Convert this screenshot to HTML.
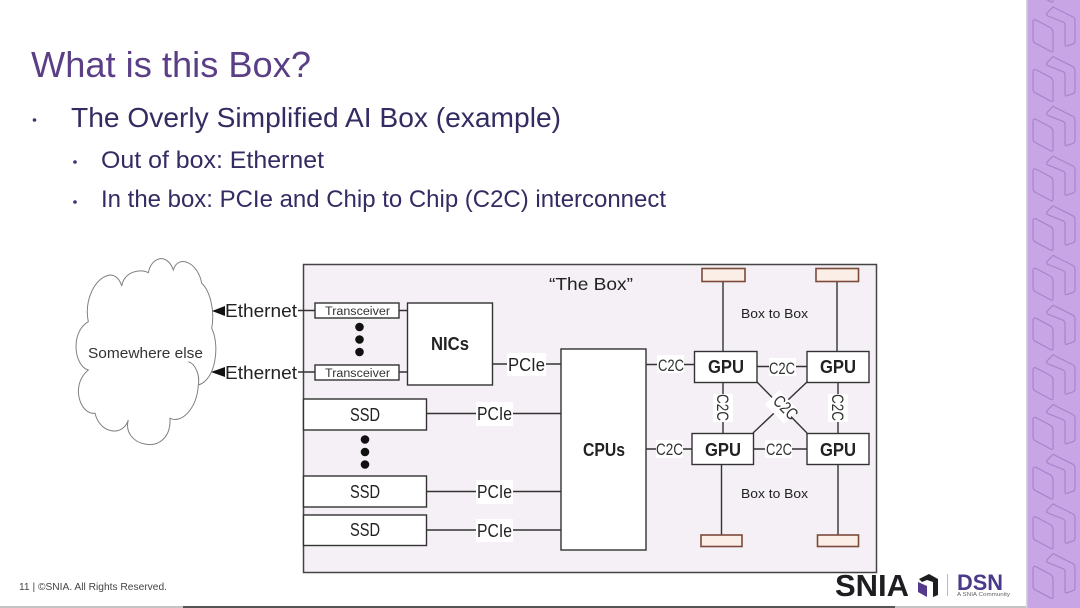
<!DOCTYPE html>
<html>
<head>
<meta charset="utf-8">
<style>
html,body{margin:0;padding:0;background:#fff;}
svg{display:block;}
text{font-family:"Liberation Sans",sans-serif;}
</style>
</head>
<body>
<svg width="1080" height="608" viewBox="0 0 1080 608" xmlns="http://www.w3.org/2000/svg">
<defs>
<g id="t" fill="none" stroke="#a983cb" stroke-width="1.2" stroke-linejoin="round">
<path d="M1033 22 Q1033 19 1036 20 L1051 28 Q1053 30 1053 32 V50 Q1053 53 1050 51 L1035 43 Q1033 42 1033 39 Z"/>
<path d="M1047 13 L1052 8 Q1053 6 1055 8 L1073 17 Q1075 18 1075 21 V41 Q1075 43 1073 44 L1067 46 Q1065 47 1065 44 V25 Q1065 23 1063 22 L1048 16 Q1046 15 1047 13 Z"/>
</g>
</defs>

<rect width="1080" height="608" fill="#fff"/>

<!-- sidebar -->
<rect x="1027" y="0" width="53" height="608" fill="#c8a6e6"/>
<rect x="1026" y="0" width="1.5" height="608" fill="#d9d2e0"/>
<use href="#t" y="-49.7"/>
<use href="#t"/>
<use href="#t" y="49.7"/>
<use href="#t" y="99.4"/>
<use href="#t" y="149.1"/>
<use href="#t" y="198.8"/>
<use href="#t" y="248.5"/>
<use href="#t" y="298.2"/>
<use href="#t" y="347.9"/>
<use href="#t" y="397.6"/>
<use href="#t" y="447.3"/>
<use href="#t" y="497"/>
<use href="#t" y="546.7"/>

<!-- heading and bullets -->
<text x="31" y="77" font-size="36" fill="#5b3f86" textLength="280" lengthAdjust="spacingAndGlyphs">What is this Box?</text>
<circle cx="34.5" cy="120" r="1.8" fill="#3b3570"/>
<text x="71" y="127" font-size="28" fill="#322c62" textLength="490" lengthAdjust="spacingAndGlyphs">The Overly Simplified AI Box (example)</text>
<circle cx="75" cy="162" r="1.8" fill="#3b3570"/>
<text x="101" y="168" font-size="24" fill="#322c62" textLength="223" lengthAdjust="spacingAndGlyphs">Out of box: Ethernet</text>
<circle cx="75" cy="202" r="1.8" fill="#3b3570"/>
<text x="101" y="207" font-size="24" fill="#322c62" textLength="565" lengthAdjust="spacingAndGlyphs">In the box: PCIe and Chip to Chip (C2C) interconnect</text>

<!-- cloud -->
<path d="M121.700 286 C124 272 140 268 148.300 272.700 C152 255 168 254 173.300 270 C178 254 198 262 201.700 283.300 C210 291 215 310 211.700 328.300 C220 345 216 380 198.300 385 C197 408 182 424 170 418.300 C171 438 158 447 145 444 C133 442 125 432 128.300 420 C123 437 100 434 95 413.300 C80 415 70 385 88.300 370 C74 366 70 332 88.300 321.700 C84 300 95 277 110 275 C116 275 120 280 121.700 286 Z" fill="#fff" stroke="#808080" stroke-width="1"/>
<path d="M188.300 361.700 C196 364 200 376 198.300 385" fill="none" stroke="#808080" stroke-width="1"/>
<text x="88" y="358" font-size="15" fill="#333" textLength="115" lengthAdjust="spacingAndGlyphs">Somewhere else</text>

<!-- arrows and Ethernet labels -->
<polygon points="212,311 225,306 225,316" fill="#111"/>
<polygon points="211,372 225,367 225,377" fill="#111"/>
<text x="225" y="317" font-size="18" fill="#222" textLength="72" lengthAdjust="spacingAndGlyphs">Ethernet</text>
<text x="225" y="379" font-size="18" fill="#222" textLength="72" lengthAdjust="spacingAndGlyphs">Ethernet</text>

<!-- main box -->
<rect x="303.5" y="264.5" width="573" height="308" fill="#f4f0f5" stroke="#444" stroke-width="1.5"/>
<text x="549" y="290" font-size="17.5" fill="#222" textLength="84" lengthAdjust="spacingAndGlyphs">“The Box”</text>

<g stroke="#333" stroke-width="1.4" fill="none">
<path d="M298 310.5H315M298 372H315M399 310.5H407M399 372H407"/>
<path d="M492 364H561"/>
<path d="M426 413.500H561M426 491.500H561M426 530H561"/>
<path d="M646 364.500H694M646 449H692"/>
<path d="M757 366.500H807M753 449H807"/>
<path d="M723 282V351M837 282V351M721.500 464V535M838 464V535"/>
<path d="M723 382V433M838 382V433"/>
<path d="M757 382L807 433M807 382L753 433"/>
</g>

<!-- boxes -->
<g fill="#fff" stroke="#333" stroke-width="1.4">
<rect x="315" y="303" width="84" height="15"/>
<rect x="315" y="365" width="84" height="15"/>
<rect x="407.500" y="303" width="85" height="82"/>
<rect x="303.500" y="399" width="123" height="31"/>
<rect x="303.500" y="476" width="123" height="31"/>
<rect x="303.500" y="515" width="123" height="30.500"/>
<rect x="561" y="349" width="85" height="201"/>
<rect x="694.500" y="351.500" width="62.500" height="31"/>
<rect x="807" y="351.500" width="62" height="31"/>
<rect x="692" y="433.500" width="61.500" height="31"/>
<rect x="807" y="433.500" width="62" height="31"/>
</g>
<text x="325" y="315" font-size="11.5" fill="#333" textLength="65" lengthAdjust="spacingAndGlyphs">Transceiver</text>
<text x="325" y="377" font-size="11.500" fill="#333" textLength="65" lengthAdjust="spacingAndGlyphs">Transceiver</text>

<!-- dots -->
<g fill="#111">
<circle cx="359.500" cy="327" r="4.300"/><circle cx="359.500" cy="339.500" r="4.300"/><circle cx="359.500" cy="352" r="4.300"/>
<circle cx="365" cy="439.500" r="4.300"/><circle cx="365" cy="452" r="4.300"/><circle cx="365" cy="464.500" r="4.300"/>
</g>

<!-- ports -->
<g fill="#fbeee6" stroke="#7d4a3b" stroke-width="1.6">
<rect x="702" y="268.500" width="43" height="13"/>
<rect x="816" y="268.500" width="42.500" height="13"/>
<rect x="701" y="535" width="41" height="11.500"/>
<rect x="817.500" y="535" width="41" height="11.500"/>
</g>

<!-- white label backing -->
<g fill="#fff">
<rect x="507" y="353" width="39" height="23"/>
<rect x="476" y="402" width="37" height="24"/>
<rect x="476" y="480" width="37" height="24"/>
<rect x="476" y="519" width="37" height="23"/>
<rect x="657" y="355" width="27" height="18"/>
<rect x="656" y="440" width="27" height="18"/>
<rect x="769" y="358" width="27" height="18"/>
<rect x="765" y="440" width="27" height="18"/>
<rect x="713" y="394" width="20" height="28"/>
<rect x="828" y="394" width="20" height="28"/>
<rect x="768" y="397" width="27" height="20" transform="rotate(45 781.500 407)"/>
</g>

<!-- node labels -->
<text x="431" y="350" font-size="18" font-weight="bold" fill="#222" textLength="38" lengthAdjust="spacingAndGlyphs">NICs</text>
<text x="583" y="456" font-size="18" font-weight="bold" fill="#222" textLength="42" lengthAdjust="spacingAndGlyphs">CPUs</text>
<text x="708" y="373" font-size="18" font-weight="bold" fill="#222" textLength="36" lengthAdjust="spacingAndGlyphs">GPU</text>
<text x="820" y="373" font-size="18" font-weight="bold" fill="#222" textLength="36" lengthAdjust="spacingAndGlyphs">GPU</text>
<text x="705" y="456" font-size="18" font-weight="bold" fill="#222" textLength="36" lengthAdjust="spacingAndGlyphs">GPU</text>
<text x="820" y="456" font-size="18" font-weight="bold" fill="#222" textLength="36" lengthAdjust="spacingAndGlyphs">GPU</text>
<text x="350" y="421" font-size="18" fill="#222" textLength="30" lengthAdjust="spacingAndGlyphs">SSD</text>
<text x="350" y="498" font-size="18" fill="#222" textLength="30" lengthAdjust="spacingAndGlyphs">SSD</text>
<text x="350" y="536" font-size="18" fill="#222" textLength="30" lengthAdjust="spacingAndGlyphs">SSD</text>

<!-- PCIe labels -->
<text x="508" y="371" font-size="18" fill="#222" textLength="37" lengthAdjust="spacingAndGlyphs">PCIe</text>
<text x="477" y="420" font-size="18" fill="#222" textLength="35" lengthAdjust="spacingAndGlyphs">PCIe</text>
<text x="477" y="498" font-size="18" fill="#222" textLength="35" lengthAdjust="spacingAndGlyphs">PCIe</text>
<text x="477" y="537" font-size="18" fill="#222" textLength="35" lengthAdjust="spacingAndGlyphs">PCIe</text>

<!-- C2C labels -->
<g font-size="17" fill="#333">
<text x="658" y="371" textLength="26" lengthAdjust="spacingAndGlyphs">C2C</text>
<text x="656" y="455" textLength="27" lengthAdjust="spacingAndGlyphs">C2C</text>
<text x="769" y="374" textLength="26" lengthAdjust="spacingAndGlyphs">C2C</text>
<text x="766" y="455" textLength="26" lengthAdjust="spacingAndGlyphs">C2C</text>
<text transform="translate(717 394) rotate(90)" textLength="27" lengthAdjust="spacingAndGlyphs">C2C</text>
<text transform="translate(832 394) rotate(90)" textLength="27" lengthAdjust="spacingAndGlyphs">C2C</text>
<text transform="translate(772 402) rotate(45)" textLength="27" lengthAdjust="spacingAndGlyphs">C2C</text>
</g>

<text x="741" y="318" font-size="12.500" fill="#222" textLength="67" lengthAdjust="spacingAndGlyphs">Box to Box</text>
<text x="741" y="498" font-size="12.500" fill="#222" textLength="67" lengthAdjust="spacingAndGlyphs">Box to Box</text>

<!-- footer -->
<text x="19" y="590" font-size="10.500" fill="#444" textLength="148" lengthAdjust="spacingAndGlyphs">11 | ©SNIA. All Rights Reserved.</text>
<rect x="0" y="606" width="1026" height="2" fill="#c4c4c4"/>
<rect x="183" y="606" width="712" height="2" fill="#555"/>

<!-- logo -->
<text x="835" y="596" font-size="31" font-weight="bold" fill="#1e1e22" textLength="74" lengthAdjust="spacingAndGlyphs">SNIA</text>
<polygon points="918,582 927,586 927,597 918,592" fill="#54398c"/>
<polygon points="919,579 929,574 938,579 938,595 933,597 933,582 927,580 922,582" fill="#1e1e22"/>
<rect x="947" y="574" width="1" height="22" fill="#bbb"/>
<text x="957" y="590" font-size="22" font-weight="bold" fill="#4b3a8c" textLength="46" lengthAdjust="spacingAndGlyphs">DSN</text>
<text x="957" y="596" font-size="5.500" fill="#666" textLength="53" lengthAdjust="spacingAndGlyphs">A SNIA Community</text>
</svg>
</body>
</html>
